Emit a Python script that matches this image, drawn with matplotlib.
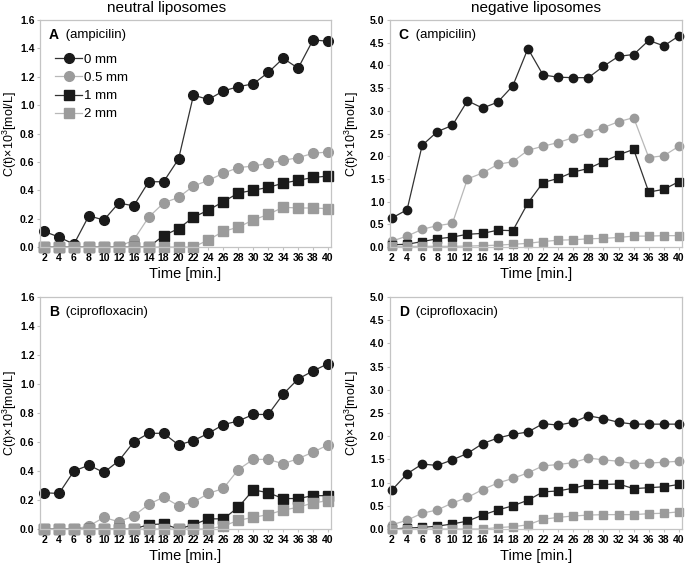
import numpy as np
import matplotlib
matplotlib.use("Agg")
from matplotlib import pyplot as plt

plt.rcParams['font.family'] = ['Liberation Sans', 'DejaVu Sans']
plt.rcParams['mathtext.fontset'] = 'custom'
plt.rcParams['mathtext.rm'] = 'Liberation Sans'

# tick labels as printed in the original (16 and 14 swapped there)
time_labels = ['2', '4', '6', '8', '10', '12', '16', '14', '18', '20',
               '22', '24', '26', '28', '30', '32', '34', '36', '38', '40']
series_names = ['0 mm', '0.5 mm', '1 mm', '2 mm']

# A - neutral liposomes, ampicilin
A_0mm = [0.11, 0.07, 0.02, 0.22, 0.19, 0.31, 0.29, 0.46, 0.46, 0.62,
         1.07, 1.04, 1.10, 1.13, 1.15, 1.23, 1.33, 1.26, 1.46, 1.45]
A_05mm = [0.0, 0.0, 0.0, 0.0, 0.0, 0.0, 0.05, 0.21, 0.31, 0.35,
          0.43, 0.47, 0.52, 0.56, 0.57, 0.59, 0.61, 0.63, 0.66, 0.67]
A_1mm = [0.0, 0.0, 0.0, 0.0, 0.0, 0.0, 0.0, 0.0, 0.08, 0.13,
         0.21, 0.26, 0.32, 0.38, 0.40, 0.42, 0.45, 0.47, 0.49, 0.50]
A_2mm = [0.0, 0.0, 0.0, 0.0, 0.0, 0.0, 0.0, 0.0, 0.0, 0.0,
         0.0, 0.05, 0.11, 0.14, 0.19, 0.23, 0.28, 0.275, 0.275, 0.27]

# B - neutral liposomes, ciprofloxacin
B_0mm = [0.25, 0.245, 0.40, 0.44, 0.39, 0.47, 0.60, 0.66, 0.66, 0.58,
         0.61, 0.66, 0.72, 0.745, 0.79, 0.79, 0.93, 1.035, 1.09, 1.14]
B_05mm = [0.0, 0.0, 0.0, 0.02, 0.08, 0.05, 0.09, 0.17, 0.22, 0.16,
          0.185, 0.245, 0.28, 0.41, 0.48, 0.48, 0.45, 0.485, 0.53, 0.58]
B_1mm = [0.0, 0.0, 0.0, 0.0, 0.0, 0.0, 0.0, 0.03, 0.035, 0.0,
         0.03, 0.07, 0.07, 0.15, 0.27, 0.25, 0.21, 0.21, 0.23, 0.23]
B_2mm = [0.0, 0.0, 0.0, 0.0, 0.0, 0.0, 0.0, 0.0, 0.0, 0.0,
         0.0, 0.0, 0.02, 0.06, 0.08, 0.10, 0.13, 0.15, 0.18, 0.195]

# C - negative liposomes, ampicilin
C_0mm = [0.64, 0.82, 2.24, 2.54, 2.68, 3.22, 3.06, 3.19, 3.55, 4.37,
         3.79, 3.74, 3.73, 3.73, 3.98, 4.20, 4.24, 4.55, 4.43, 4.65]
C_05mm = [0.13, 0.24, 0.39, 0.47, 0.52, 1.50, 1.63, 1.82, 1.88, 2.13,
          2.22, 2.30, 2.41, 2.51, 2.63, 2.76, 2.85, 1.97, 2.01, 2.22]
C_1mm = [0.05, 0.06, 0.12, 0.18, 0.22, 0.28, 0.30, 0.37, 0.36, 0.97,
         1.42, 1.51, 1.65, 1.73, 1.88, 2.03, 2.15, 1.21, 1.27, 1.44]
C_2mm = [0.015, 0.015, 0.015, 0.015, 0.015, 0.02, 0.03, 0.04, 0.06, 0.08,
         0.12, 0.15, 0.16, 0.18, 0.19, 0.21, 0.24, 0.24, 0.25, 0.25]

# D - negative liposomes, ciprofloxacin
D_0mm = [0.84, 1.19, 1.40, 1.37, 1.49, 1.63, 1.84, 1.96, 2.04, 2.09,
         2.27, 2.24, 2.30, 2.44, 2.38, 2.30, 2.26, 2.26, 2.26, 2.26]
D_05mm = [0.09, 0.19, 0.34, 0.41, 0.56, 0.68, 0.85, 0.99, 1.09, 1.21,
          1.36, 1.39, 1.43, 1.53, 1.49, 1.46, 1.41, 1.42, 1.44, 1.46]
D_1mm = [0.0, 0.02, 0.035, 0.06, 0.11, 0.17, 0.30, 0.41, 0.50, 0.62,
         0.80, 0.82, 0.88, 0.96, 0.96, 0.97, 0.87, 0.89, 0.91, 0.96]
D_2mm = [0.0, 0.0, 0.0, 0.0, 0.0, 0.0, 0.0, 0.03, 0.05, 0.09,
         0.21, 0.25, 0.28, 0.30, 0.31, 0.31, 0.31, 0.33, 0.34, 0.37]

BLACK = '#1a1a1a'
GRAY = '#9b9b9b'
styles = [
    dict(marker='o', mfc=BLACK, mec=BLACK, color='#333333'),
    dict(marker='o', mfc=GRAY, mec=GRAY, color='#b8b8b8'),
    dict(marker='s', mfc=BLACK, mec=BLACK, color='#333333'),
    dict(marker='s', mfc=GRAY, mec=GRAY, color='#b8b8b8'),
]

W, H = 685, 566
fig = plt.figure(figsize=(W / 100, H / 100), dpi=100)


def rect(l, r, t, b):
    return [l / W, 1 - b / H, (r - l) / W, (b - t) / H]


def panel(box, data, ymax, ystep, letter, drug, ms, xleft, ylab_x, legend=False):
    ax = fig.add_axes(rect(*box))
    x = np.arange(len(time_labels))
    for vals, st, name in zip(data, styles, series_names):
        ax.plot(x, vals, lw=0.9, ms=ms, label=name, clip_on=False, **st)
    ax.set_xlim(xleft, 19.2)
    ax.set_ylim(0, ymax)
    ax.set_xticks(x)
    ax.set_xticklabels(time_labels)
    yt = np.arange(0, ymax + ystep / 2, ystep)
    ax.set_yticks(yt)
    ax.set_yticklabels(['%.1f' % v for v in yt])
    for lab in ax.get_xticklabels() + ax.get_yticklabels():
        lab.set_fontweight('bold')
    ax.tick_params(axis='both', labelsize=7.5, length=2, color='#c0c0c0', pad=2)
    for sp in ax.spines.values():
        sp.set_color('#c4c4c4')
        sp.set_linewidth(0.9)
    ax.set_xlabel('Time [min.]', fontsize=10.5, labelpad=3)
    ax.set_ylabel(r'C(t)$\times$10$^{3}$[mol/L]', fontsize=9)
    ax.yaxis.set_label_coords(ylab_x, 0.5)
    ax.text(0.03, 0.935, letter, transform=ax.transAxes, fontsize=10,
            fontweight='bold', va='center', ha='left')
    ax.text(0.03 + 0.046, 0.935, ' (' + drug + ')', transform=ax.transAxes,
            fontsize=9.5, va='center', ha='left')
    if legend:
        ax.legend(loc='upper left', bbox_to_anchor=(0.035, 0.875), frameon=False,
                  fontsize=9.5, handlelength=2.0, handletextpad=0.2,
                  labelspacing=0.45, borderaxespad=0.0)
    return ax


panel((40, 331, 20, 247), [A_0mm, A_05mm, A_1mm, A_2mm], 1.6, 0.2,
      'A', 'ampicilin', 7, -0.27, -0.072, legend=True)
panel((40, 331, 297, 529), [B_0mm, B_05mm, B_1mm, B_2mm], 1.6, 0.2,
      'B', 'ciprofloxacin', 7, -0.27, -0.072)
panel((390, 682, 20, 247), [C_0mm, C_05mm, C_1mm, C_2mm], 5.0, 0.5,
      'C', 'ampicilin', 6, -0.13, -0.1)
panel((390, 682, 297, 529), [D_0mm, D_05mm, D_1mm, D_2mm], 5.0, 0.5,
      'D', 'ciprofloxacin', 6, -0.13, -0.1)

fig.text(167 / W, 1 - 8 / H, 'neutral liposomes', fontsize=11, ha='center', va='center')
fig.text(536 / W, 1 - 8 / H, 'negative liposomes', fontsize=11, ha='center', va='center')

fig.savefig('out.png', dpi=100)
